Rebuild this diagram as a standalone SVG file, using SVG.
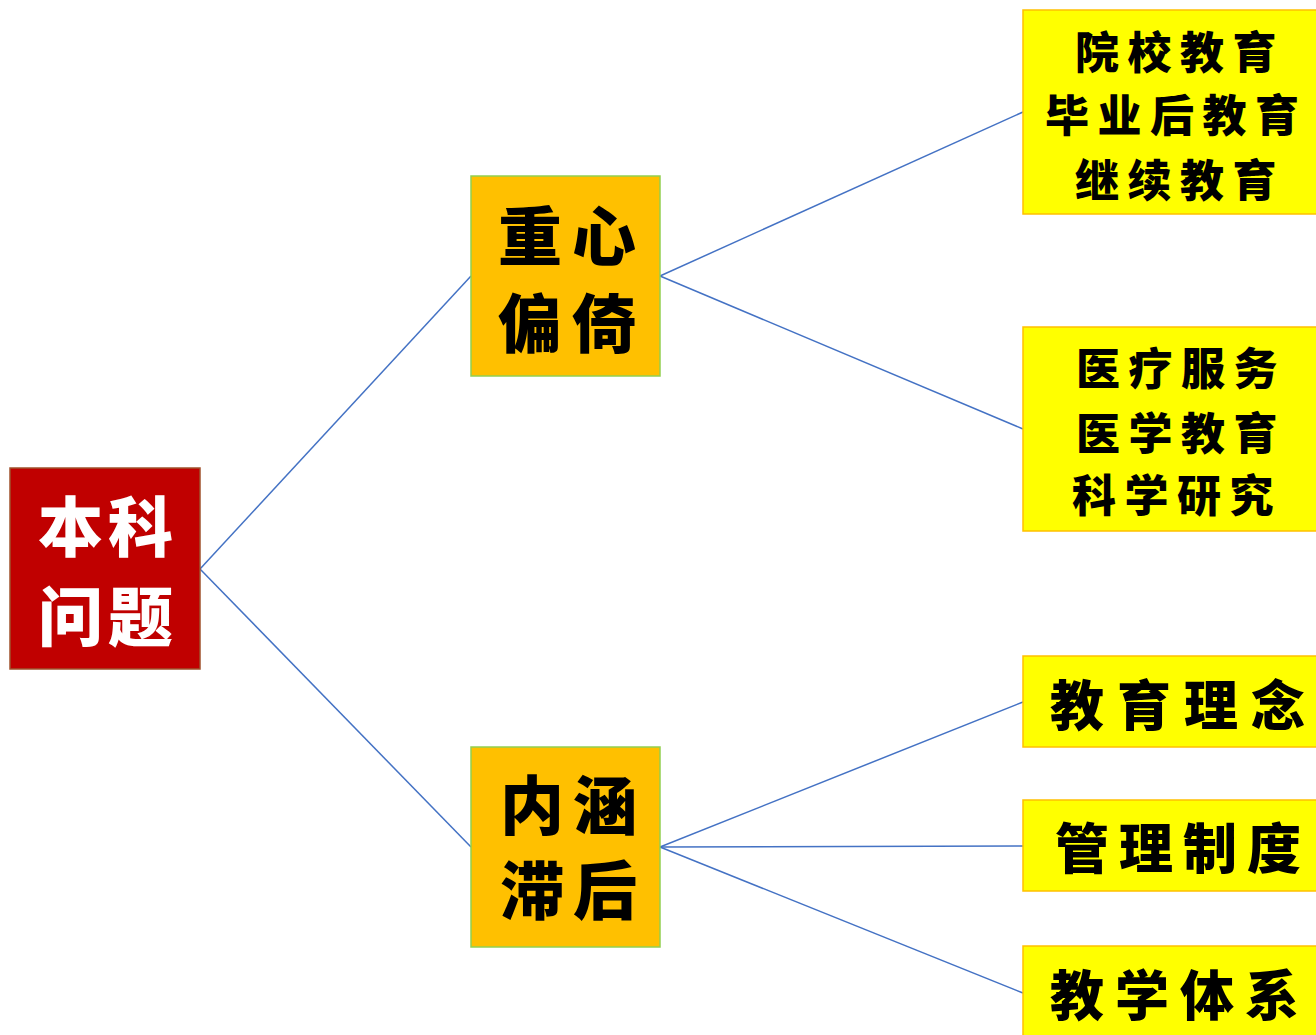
<svg xmlns="http://www.w3.org/2000/svg" width="1316" height="1035" viewBox="0 0 1316 1035">
<style>
.t{font-family:"Noto Sans CJK SC","Noto Sans CJK TC",sans-serif;font-weight:900;fill:#000}
.w{fill:#fff}
.root{fill:#C00000;stroke:#A0522D;stroke-width:1.5}
.mid{fill:#FFC000;stroke:#92D050;stroke-width:1.5}
.leaf{fill:#FFFF00;stroke:#FFC000;stroke-width:1.5}
.c line{stroke:#4472C4;stroke-width:1.5}
</style>
<rect width="1316" height="1035" fill="#fff"/>
<g class="c">
<line x1="200" y1="569" x2="471" y2="276"/>
<line x1="200" y1="569" x2="471" y2="847"/>
<line x1="660" y1="276" x2="1023" y2="112"/>
<line x1="660" y1="276" x2="1023" y2="429"/>
<line x1="660" y1="847" x2="1023" y2="702"/>
<line x1="660" y1="847" x2="1023" y2="846"/>
<line x1="660" y1="847" x2="1023" y2="993"/>
</g>
<g id="root">
<rect class="root" x="10" y="468" width="190" height="201"/>
<text class="t w" x="38" y="551" font-size="65" letter-spacing="5">本科</text>
<text class="t w" x="38" y="641" font-size="65" letter-spacing="5">问题</text>
</g>
<g id="n1">
<rect class="mid" x="471" y="176" width="189" height="200"/>
<text class="t" x="498" y="260" font-size="64" letter-spacing="10">重心</text>
<text class="t" x="498" y="347" font-size="64" letter-spacing="10">偏倚</text>
</g>
<g id="n2">
<rect class="mid" x="471" y="747" width="189" height="200"/>
<text class="t" x="500" y="829" font-size="64" letter-spacing="9">内涵</text>
<text class="t" x="500" y="914" font-size="64" letter-spacing="9">滞后</text>
</g>
<g id="l1">
<rect class="leaf" x="1023" y="10" width="300" height="204"/>
<text class="t" x="1075" y="69" font-size="44" letter-spacing="8.5">院校教育</text>
<text class="t" x="1045" y="132" font-size="44" letter-spacing="8.5">毕业后教育</text>
<text class="t" x="1075" y="197" font-size="44" letter-spacing="8.5">继续教育</text>
</g>
<g id="l2">
<rect class="leaf" x="1023" y="327" width="300" height="204"/>
<text class="t" x="1076" y="385" font-size="44" letter-spacing="8.5">医疗服务</text>
<text class="t" x="1076" y="450" font-size="44" letter-spacing="8.5">医学教育</text>
<text class="t" x="1072" y="512" font-size="44" letter-spacing="8.5">科学研究</text>
</g>
<g id="l3">
<rect class="leaf" x="1023" y="656" width="300" height="91"/>
<text class="t" x="1050" y="726" font-size="54" letter-spacing="13">教育理念</text>
</g>
<g id="l4">
<rect class="leaf" x="1023" y="800" width="300" height="91"/>
<text class="t" x="1055" y="869" font-size="54" letter-spacing="10">管理制度</text>
</g>
<g id="l5">
<rect class="leaf" x="1023" y="946" width="300" height="100"/>
<text class="t" x="1050" y="1016" font-size="54" letter-spacing="11">教学体系</text>
</g>
</svg>
